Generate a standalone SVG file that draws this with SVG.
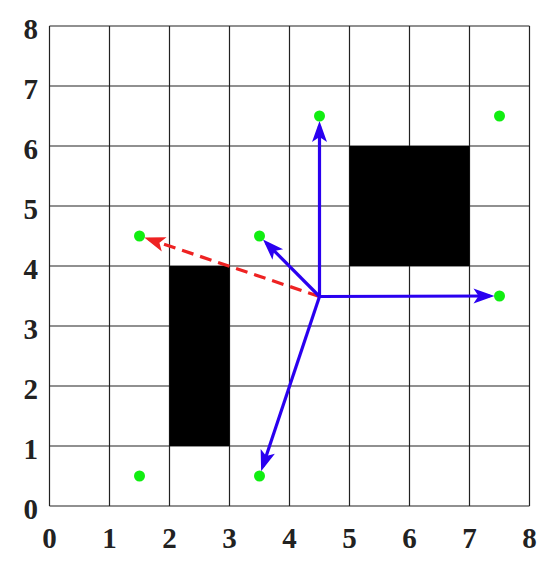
<svg xmlns="http://www.w3.org/2000/svg" width="550" height="563" viewBox="0 0 550 563">
<style>
.grid{stroke:#222;stroke-width:1.2;fill:none}
.tick{font-family:"Liberation Serif","Times New Roman",serif;font-weight:bold;font-size:29px;fill:#222}
.ob{fill:#000}
.pt{fill:#11ee11}
.blue{stroke:#2a00f0;stroke-width:3.2;fill:none}
.red{stroke:#ee2222;stroke-width:3.2;fill:none;stroke-dasharray:12 7}
</style>
<defs>
<marker id="ab" markerUnits="userSpaceOnUse" markerWidth="26" markerHeight="20" viewBox="-2 -10 26 20" refX="16" refY="0" orient="auto">
<path d="M0,-7.5 L21,0 L0,7.5 L5,0 Z" fill="#2a00f0"/>
</marker>
<marker id="ar" markerUnits="userSpaceOnUse" markerWidth="26" markerHeight="20" viewBox="-2 -10 26 20" refX="16" refY="0" orient="auto">
<path d="M0,-7.5 L21,0 L0,7.5 L5,0 Z" fill="#ee2222"/>
</marker>
</defs>
<rect width="550" height="563" fill="#fff"/>
<g id="grid">
<path class="grid" d="M49.5,26V506M109.5,26V506M169.5,26V506M229.5,26V506M289.5,26V506M349.5,26V506M409.5,26V506M469.5,26V506M529.5,26V506M49.5,26H529.5M49.5,86H529.5M49.5,146H529.5M49.5,206H529.5M49.5,266H529.5M49.5,326H529.5M49.5,386H529.5M49.5,446H529.5M49.5,506H529.5"/>
</g>
<g id="yticks" class="tick" text-anchor="end">
<text x="38" y="518.5">0</text>
<text x="38" y="458.5">1</text>
<text x="38" y="398.5">2</text>
<text x="38" y="338.5">3</text>
<text x="38" y="278.5">4</text>
<text x="38" y="218.5">5</text>
<text x="38" y="158.5">6</text>
<text x="38" y="98.5">7</text>
<text x="38" y="38.5">8</text>
</g>
<g id="xticks" class="tick" text-anchor="middle">
<text x="49.5" y="548">0</text>
<text x="109.5" y="548">1</text>
<text x="169.5" y="548">2</text>
<text x="229.5" y="548">3</text>
<text x="289.5" y="548">4</text>
<text x="349.5" y="548">5</text>
<text x="409.5" y="548">6</text>
<text x="469.5" y="548">7</text>
<text x="529.5" y="548">8</text>
</g>
<g id="obstacle1"><rect class="ob" x="169.5" y="266" width="60" height="180"/></g>
<g id="obstacle2"><rect class="ob" x="349.5" y="146" width="120" height="120"/></g>
<g id="connectors">
<line class="red" x1="319.5" y1="296.5" x2="149" y2="239.2" marker-end="url(#ar)"/>
<line class="blue" x1="319.5" y1="296.5" x2="319.5" y2="126" marker-end="url(#ab)"/>
<line class="blue" x1="319.5" y1="296.5" x2="489.5" y2="296" marker-end="url(#ab)"/>
<line class="blue" x1="319.5" y1="296.5" x2="266.5" y2="243.1" marker-end="url(#ab)"/>
<line class="blue" x1="319.5" y1="296.5" x2="262.7" y2="466.5" marker-end="url(#ab)"/>
</g>
<g id="p1"><circle class="pt" cx="139.5" cy="476" r="5.5"/></g>
<g id="p2"><circle class="pt" cx="259.5" cy="476" r="5.5"/></g>
<g id="p3"><circle class="pt" cx="139.5" cy="236" r="5.5"/></g>
<g id="p4"><circle class="pt" cx="259.5" cy="236" r="5.5"/></g>
<g id="p5"><circle class="pt" cx="319.5" cy="116" r="5.5"/></g>
<g id="p6"><circle class="pt" cx="499.5" cy="116" r="5.5"/></g>
<g id="p7"><circle class="pt" cx="499.5" cy="296" r="5.5"/></g>
</svg>
